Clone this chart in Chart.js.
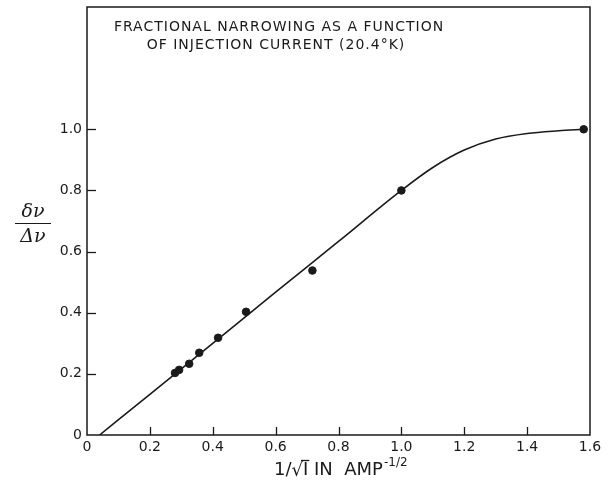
<!DOCTYPE html>
<html>
<head>
<meta charset="utf-8">
<script src="https://cdn.jsdelivr.net/npm/chart.js@4.4.1/dist/chart.umd.min.js"></script>
<style>
  html, body { margin: 0; padding: 0; background: #fff; }
</style>
</head>
<body>
<canvas id="myChart" width="608" height="481"></canvas>
<script>
// measured points
const pointX = [0.28, 0.293, 0.325, 0.357, 0.417, 0.506, 0.717, 1.0, 1.58];
const pointY = [0.203, 0.213, 0.233, 0.269, 0.318, 0.403, 0.538, 0.80, 1.0];

// hand-drawn fit curve
const curveX = [0.04, 0.2, 0.4, 0.6, 0.8, 1.0, 1.1, 1.2, 1.3, 1.4, 1.5, 1.58];
const curveY = [0.0, 0.133, 0.30, 0.467, 0.633, 0.80, 0.875, 0.932, 0.968, 0.986, 0.995, 1.0];

const titleLines = ["FRACTIONAL NARROWING AS A FUNCTION", "OF INJECTION CURRENT (20.4°K)"];
const yLabelMax = 1.0;

const ink = "#1a1a1a";

const fmt = (v) => (v === 0 ? "0" : v.toFixed(1));

const decor = {
  id: "decor",
  afterDraw(chart) {
    const c = chart.ctx;
    const a = chart.chartArea;
    const xs = chart.scales.x;
    const ys = chart.scales.y;
    c.save();
    c.strokeStyle = ink;
    c.lineWidth = 1.5;
    c.strokeRect(a.left, a.top, a.right - a.left, a.bottom - a.top);

    // inward ticks
    c.lineWidth = 1.3;
    [0.2, 0.4, 0.6, 0.8, 1.0, 1.2, 1.4].forEach((v) => {
      const px = Math.round(xs.getPixelForValue(v)) + 0.5;
      c.beginPath();
      c.moveTo(px, a.bottom);
      c.lineTo(px, a.bottom - 8);
      c.stroke();
    });
    [0.2, 0.4, 0.6, 0.8, 1.0].forEach((v) => {
      const py = Math.round(ys.getPixelForValue(v)) + 0.5;
      c.beginPath();
      c.moveTo(a.left, py);
      c.lineTo(a.left + 9, py);
      c.stroke();
    });

    // title inside plot
    c.fillStyle = ink;
    c.font = "14px 'DejaVu Sans'";
    c.letterSpacing = "1px";
    c.textAlign = "center";
    c.textBaseline = "middle";
    c.fillText(titleLines[0], 279, 27);
    c.fillText(titleLines[1], 276, 45);
    c.letterSpacing = "0px";

    // y axis title: delta nu over Delta nu
    c.font = "italic 19px 'DejaVu Serif'";
    c.fillText("δν", 33, 212);
    c.fillText("Δν", 33, 237);
    c.lineWidth = 1.2;
    c.beginPath();
    c.moveTo(15, 223.5);
    c.lineTo(51, 223.5);
    c.stroke();

    // x axis title: 1/sqrt(I) IN AMP^-1/2
    c.font = "18px 'DejaVu Sans'";
    c.textAlign = "left";
    c.textBaseline = "alphabetic";
    let x = 274;
    const base = 475;
    c.fillText("1/", x, base);
    x += c.measureText("1/").width;
    c.fillText("√", x, base + 1);
    x += c.measureText("√").width;
    c.fillText("I", x, base);
    const iw = c.measureText("I").width;
    c.lineWidth = 1.3;
    c.beginPath();
    c.moveTo(x - 2, base - 14.5);
    c.lineTo(x + iw + 1, base - 14.5);
    c.stroke();
    x += iw;
    c.fillText(" IN  AMP", x, base);
    x += c.measureText(" IN  AMP").width;
    c.font = "12px 'DejaVu Sans'";
    c.fillText("-1/2", x + 1, base - 9);
    c.restore();
  },
};

const ctx = document.getElementById("myChart").getContext("2d");

const config = {
  type: "scatter",
  data: {
    datasets: [
      {
        label: "curve",
        type: "line",
        data: curveX.map((v, i) => ({ x: v, y: curveY[i] })),
        borderColor: ink,
        borderWidth: 1.6,
        pointRadius: 0,
        cubicInterpolationMode: "monotone",
        fill: false,
      },
      {
        label: "points",
        data: pointX.map((v, i) => ({ x: v, y: pointY[i] })),
        backgroundColor: ink,
        borderColor: ink,
        pointRadius: 3.8,
      },
    ],
  },
  options: {
    responsive: false,
    animation: false,
    devicePixelRatio: 1,
    layout: { padding: { top: 7, right: 18, left: 0, bottom: 0 } },
    plugins: { legend: { display: false }, tooltip: { enabled: false } },
    scales: {
      x: {
        type: "linear",
        min: 0,
        max: 1.6,
        grid: { display: false, drawTicks: false },
        border: { display: false },
        ticks: {
          stepSize: 0.2,
          padding: 4,
          color: ink,
          font: { family: "DejaVu Sans", size: 14 },
          maxRotation: 0,
          callback: (v) => fmt(v),
        },
        afterFit: (s) => { s.height = 46; },
      },
      y: {
        min: 0,
        max: 1.4,
        grid: { display: false, drawTicks: false },
        border: { display: false },
        ticks: {
          stepSize: 0.2,
          padding: 5,
          color: ink,
          font: { family: "DejaVu Sans", size: 14 },
          callback: (v) => (v > yLabelMax + 1e-6 ? "" : fmt(v)),
        },
        afterFit: (s) => { s.width = 87; s.paddingTop = 0; s.paddingBottom = 0; },
      },
    },
  },
  plugins: [decor],
};

const myChart = new Chart(ctx, config);
</script>
</body>
</html>
